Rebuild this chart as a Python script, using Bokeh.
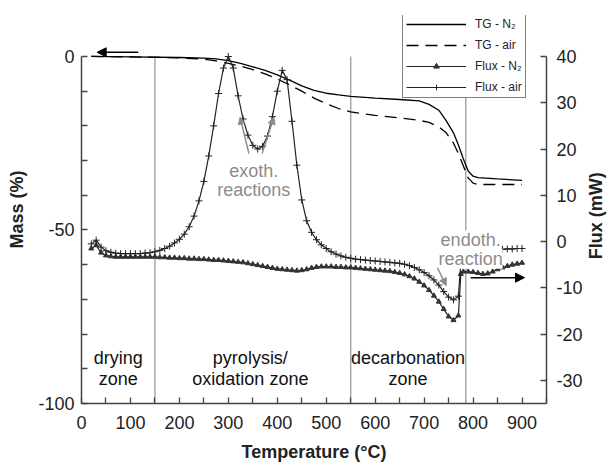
import math
from bokeh.plotting import figure
from bokeh.layouts import row
from bokeh.models import (Range1d, LinearAxis, FixedTicker, Label, Arrow,
                          NormalHead, Legend, LegendItem)
from bokeh.embed import file_html
from bokeh.resources import INLINE

FONT = "Liberation Sans"

# ---------------- data ----------------
tg_temp = [20, 100, 200, 250, 275, 300, 325, 350, 375, 400, 425, 450, 475,
           500, 525, 550, 600, 650, 690, 710, 730, 745, 760, 770, 780, 790,
           800, 810, 850, 900]
tg_n2 = [0, -0.1, -0.3, -0.5, -0.7, -1.2, -2.0, -3.0, -4.0, -5.3, -6.8, -8.5,
         -9.8, -10.6, -11.1, -11.5, -12.0, -12.4, -12.8, -13.8, -15.5, -18.5,
         -22.0, -25.5, -29.5, -33.0, -34.5, -34.9, -35.3, -35.7]
tg_air = [0, -0.1, -0.4, -0.8, -1.3, -2.0, -2.8, -3.8, -5.0, -6.5, -8.2,
          -10.0, -12.0, -13.6, -15.0, -16.0, -17.0, -17.7, -18.4, -19.0,
          -20.3, -22.0, -25.0, -28.0, -31.5, -35.0, -36.5, -36.9, -36.9, -36.9]

flux_temp = [20, 30, 40, 50, 60, 70, 80, 90, 100, 110, 120, 130, 140, 150,
             160, 170, 180, 190, 200, 210, 220, 230, 240, 250, 260, 270, 280,
             290, 300, 310, 320, 330, 340, 350, 360, 370, 380, 390, 400, 410,
             420, 430, 440, 450, 460, 470, 480, 490, 500, 510, 520, 530, 540,
             550, 560, 570, 580, 590, 600, 610, 620, 630, 640, 650, 660, 670,
             680, 690, 700, 710, 720, 730, 740, 750, 760, 770, 775, 780, 790,
             800, 810, 820, 830, 840, 850, 860, 870, 880, 890, 900]
flux_n2 = [-1.5, -0.8, -2.4, -3.0, -3.2, -3.3, -3.3, -3.3, -3.3, -3.3, -3.3,
           -3.3, -3.3, -3.3, -3.4, -3.4, -3.5, -3.5, -3.6, -3.6, -3.7, -3.7,
           -3.8, -3.8, -3.9, -4.0, -4.0, -4.1, -4.2, -4.3, -4.4, -4.5, -4.7,
           -4.9, -5.1, -5.3, -5.5, -5.7, -5.9, -6.0, -6.1, -6.2, -6.3, -6.2,
           -6.0, -5.7, -5.5, -5.4, -5.4, -5.4, -5.5, -5.5, -5.6, -5.6, -5.7,
           -5.8, -5.9, -6.0, -6.1, -6.2, -6.3, -6.4, -6.6, -6.8, -7.1, -7.5,
           -8.0, -8.7, -9.5, -10.5, -11.7, -13.0, -14.6, -16.2, -17.0, -16.0,
           -7.0, -6.5, -6.5, -6.6, -6.8, -7.0, -6.9, -6.5, -6.0, -5.6, -5.3,
           -5.0, -4.8, -4.6]
flux_air = [-0.5, 0.3, -1.2, -2.0, -2.3, -2.5, -2.6, -2.6, -2.6, -2.6, -2.6,
            -2.5, -2.4, -2.2, -1.9, -1.5, -1.0, -0.3, 0.5, 1.6, 3.2, 5.5, 8.8,
            13.0, 18.5, 25.0, 32.0, 37.5, 40.0, 37.5, 31.5, 26.5, 23.0, 20.8,
            20.0, 20.6, 22.8, 27.0, 32.5, 37.0, 35.0, 26.0, 16.5, 9.0, 4.5,
            2.0, 0.4, -0.7, -1.5, -2.2, -2.7, -3.1, -3.4, -3.6, -3.8, -3.9,
            -4.0, -4.1, -4.2, -4.3, -4.4, -4.5, -4.6, -4.7, -4.9, -5.2, -5.6,
            -6.1, -6.7, -7.4, -8.3, -9.4, -10.8, -12.0, -12.6, -11.8, -4.5,
            -3.8, -3.5, -3.4, -3.3, -3.3, -3.0, -2.4, -1.9, -1.7, -1.6, -1.6,
            -1.5, -1.5]

zone_bounds = [150, 550, 785]
x_ticks = [0, 50, 100, 150, 200, 250, 300, 350, 400, 450, 500, 550, 600, 650,
           700, 750, 800, 850, 900, 950]
x_labelled = [0, 100, 200, 300, 400, 500, 600, 700, 800, 900]
mass_ticks = [0, -10, -20, -30, -40, -50, -60, -70, -80, -90, -100]
mass_labelled = [0, -50, -100]
flux_ticks = [-30, -20, -10, 0, 10, 20, 30, 40]

# ---------------- main figure ----------------
# frame extends above the 0 % / 40 mW line to leave room for the legend
p = figure(width=585, height=465, x_range=Range1d(0, 950),
           y_range=Range1d(-100, 11.8), output_backend="svg",
           toolbar_location=None, min_border_left=81, min_border_right=38,
           min_border_top=15, min_border_bottom=62)
p.extra_y_ranges = {"flux": Range1d(-35, 48.86)}
p.grid.visible = False
p.outline_line_color = None
p.xaxis.visible = False
p.yaxis.visible = False

AX_COL = "#444444"
TXT_COL = "#222222"


def style_axis(ax):
    ax.axis_line_color = AX_COL
    ax.axis_line_width = 1.5
    ax.major_tick_line_color = AX_COL
    ax.major_tick_line_width = 1.3
    ax.major_tick_in = 6
    ax.major_tick_out = 0
    ax.minor_tick_line_color = None
    ax.major_label_text_font = FONT
    ax.major_label_text_font_size = "18px"
    ax.major_label_text_color = TXT_COL
    ax.axis_label_text_font = FONT
    ax.axis_label_text_font_size = "18px"
    ax.axis_label_text_font_style = "bold"
    ax.axis_label_text_color = TXT_COL


xax = LinearAxis(axis_label="Temperature (°C)",
                 ticker=FixedTicker(ticks=x_ticks))
xax.major_label_overrides = {t: (str(t) if t in x_labelled else "")
                             for t in x_ticks}
style_axis(xax)
xax.major_label_standoff = 12
xax.axis_label_standoff = 10
p.add_layout(xax, "below")

lax = LinearAxis(axis_label="Mass (%)", ticker=FixedTicker(ticks=mass_ticks),
                 bounds=(-100, 0))
lax.major_label_overrides = {t: (str(t) if t in mass_labelled else "")
                             for t in mass_ticks}
style_axis(lax)
lax.major_label_standoff = 7
lax.axis_label_standoff = 8
p.add_layout(lax, "left")

rax = LinearAxis(y_range_name="flux", ticker=FixedTicker(ticks=flux_ticks),
                 bounds=(-35, 40))
rax.major_label_overrides = {t: str(t) for t in flux_ticks}
style_axis(rax)
rax.major_label_standoff = 10
p.add_layout(rax, "right")

# zone boundaries
p.segment(x0=zone_bounds, y0=[-100] * len(zone_bounds), x1=zone_bounds,
          y1=[0] * len(zone_bounds), line_color="#a8a8a8", line_width=1.5)

# TG curves
r_tg_n2 = p.line(tg_temp, tg_n2, line_color="black", line_width=1.3)
r_tg_air = p.line(tg_temp, tg_air, line_color="black", line_width=1.3,
                  line_dash="12 7")

# flux curves
r_fn2_l = p.line(flux_temp, flux_n2, line_color="#222222", line_width=1.2,
                 y_range_name="flux")
r_fn2_m = p.scatter(flux_temp, flux_n2, marker="triangle", size=5,
                    fill_color="#333333", line_color="#333333",
                    y_range_name="flux")
r_fair_l = p.line(flux_temp, flux_air, line_color="#222222", line_width=1.2,
                  y_range_name="flux")
r_fair_m = p.scatter(flux_temp, flux_air, marker="cross", size=7,
                     line_color="#222222", line_width=1, y_range_name="flux")

legend = Legend(items=[
    LegendItem(label="TG - N₂", renderers=[r_tg_n2]),
    LegendItem(label="TG - air", renderers=[r_tg_air]),
    LegendItem(label="Flux - N₂", renderers=[r_fn2_l, r_fn2_m]),
    LegendItem(label="Flux - air", renderers=[r_fair_l, r_fair_m]),
], location=(321, 305))
legend.border_line_color = "black"
legend.border_line_width = 1
legend.background_fill_alpha = 1
legend.label_text_font = FONT
legend.label_text_font_size = "12px"
legend.label_text_color = TXT_COL
legend.glyph_width = 60
legend.glyph_height = 14
legend.label_height = 14
legend.spacing = 7
legend.padding = 3
legend.margin = 0
legend.label_standoff = 9
p.add_layout(legend)


def add_text(fig, x, y, text, color="#111111", size="18px", bg=None,
             angle=0.0, style="normal"):
    fig.add_layout(Label(x=x, y=y, text=text, text_align="center",
                         text_baseline="middle", text_font=FONT,
                         text_font_size=size, text_color=color,
                         text_font_style=style, angle=angle,
                         background_fill_color=bg))


# zone labels
add_text(p, 75, -87, "drying")
add_text(p, 75, -92.8, "zone")
add_text(p, 345, -87, "pyrolysis/")
add_text(p, 345, -92.8, "oxidation zone")
add_text(p, 667, -87, "decarbonation")
add_text(p, 667, -92.8, "zone")

GRAY = "#8c8c8c"
add_text(p, 352, -32.9, "exoth.", color=GRAY)
add_text(p, 352, -38.6, "reactions", color=GRAY)

# gray arrows
for xs, ys, xe, ye in [(342, -28, 324, -17.5), (369, -28, 393, -17.5),
                       (727, -60.8, 745, -66.0)]:
    p.add_layout(Arrow(end=NormalHead(size=7, fill_color=GRAY,
                                      line_color=GRAY),
                       x_start=xs, y_start=ys, x_end=xe, y_end=ye,
                       line_color=GRAY, line_width=1.5))

add_text(p, 795, -53.0, "endoth.", color=GRAY, bg="white")
add_text(p, 795, -58.3, "reaction", color=GRAY, bg="white")

# black axis-pointing arrows
p.add_layout(Arrow(end=NormalHead(size=9, fill_color="black",
                                  line_color="black"),
                   x_start=116, y_start=1.2, x_end=32, y_end=1.2,
                   line_color="black", line_width=1.5))
p.add_layout(Arrow(end=NormalHead(size=9, fill_color="black",
                                  line_color="black"),
                   x_start=795, y_start=-7.8, x_end=905, y_end=-7.8,
                   line_color="black", line_width=1.5, y_range_name="flux"))

# ---------------- right-hand axis title strip ----------------
q = figure(width=28, height=465, x_range=Range1d(0, 28),
           y_range=Range1d(0, 465), output_backend="svg",
           toolbar_location=None, x_axis_type=None, y_axis_type=None,
           min_border=0)
q.grid.visible = False
q.outline_line_color = None
add_text(q, 10, 225, "Flux (mW)", color=TXT_COL, angle=math.pi / 2,
         style="bold")

layout = row(p, q, spacing=0)
open("out.html", "w").write(file_html(layout, INLINE))
